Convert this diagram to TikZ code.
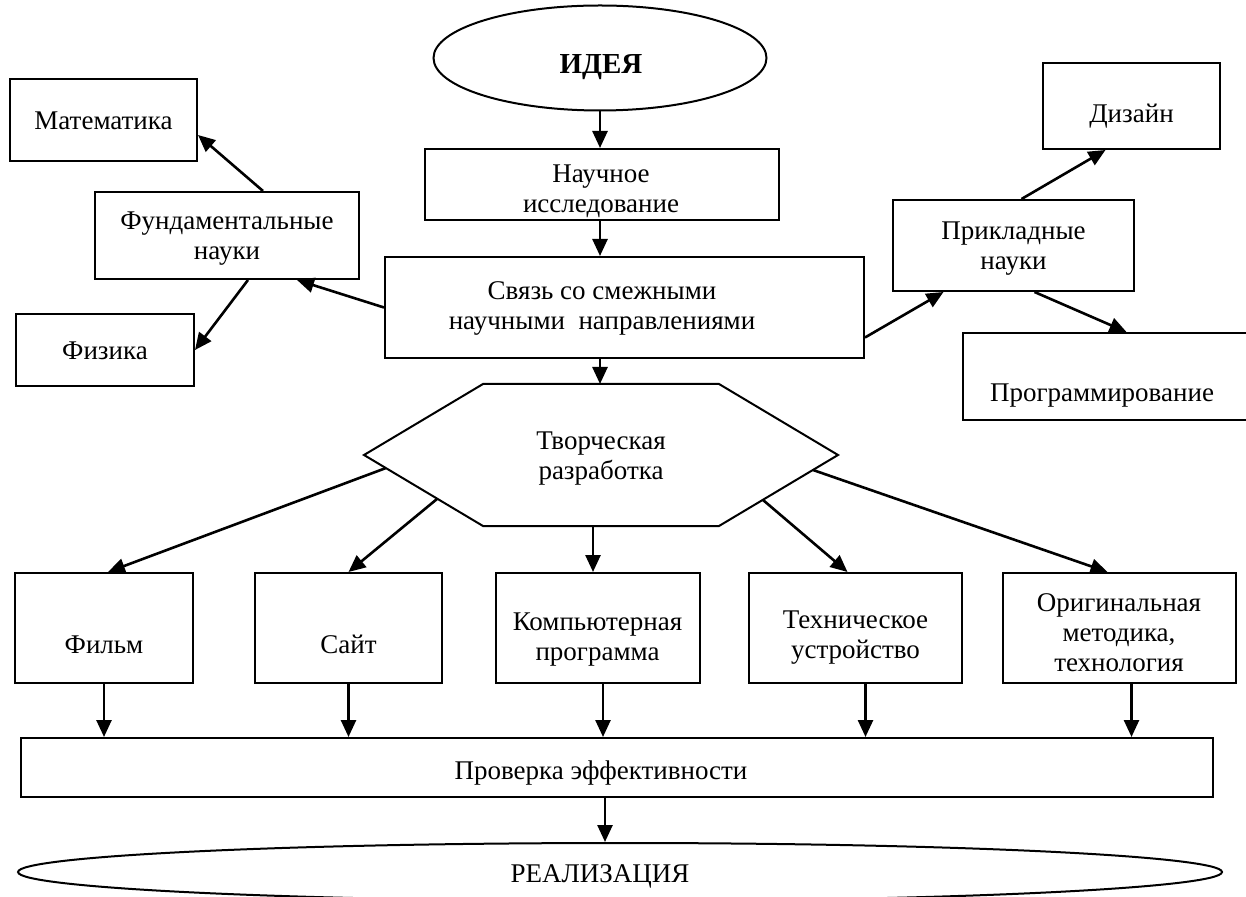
\documentclass[tikz,border=0pt]{standalone}
\usepackage{fontspec}
\setmainfont{Liberation Serif}
\usetikzlibrary{arrows.meta,shapes.geometric}
\tikzset{
  box/.style={draw, line width=1pt, inner sep=0pt, align=center},
  oval/.style={draw, ellipse, line width=1pt, inner sep=0pt},
  lbl/.style={inner sep=0pt, align=center},
  line/.style={inner sep=0pt, text height=9pt, text depth=3pt},
  arr/.style={line width=1.3pt, -{Triangle[length=8.5pt, width=7.5pt]}},
}
\begin{document}
\begin{tikzpicture}[x=0.5pt, y=-0.5pt, font=\fontsize{13.5}{15}\selectfont]
  \useasboundingbox (0,0) rectangle (1246,897);
  \node[oval, minimum width=166.5pt, minimum height=52.5pt] (idea) at (600,58) {};
  \node[line, font=\fontsize{14.5}{15}\selectfont\bfseries] (ideatxt) at (601,68) {ИДЕЯ};
  \node[box, minimum width=177pt, minimum height=35.5pt] (nauch) at (602,184.5) {};
  \node[lbl] (nauchtxt) at (601,191) {Научное\\исследование};
  \node[box, minimum width=239.5pt, minimum height=50.5pt] (svyaz) at (624.5,307.5) {};
  \node[lbl] (svyaztxt) at (602,308) {Связь со смежными\\научными\ \ направлениями};
  \node[box, minimum width=132pt, minimum height=43.5pt] (fund) at (227,235.5) {};
  \node[lbl] (fundtxt) at (227,239) {Фундаментальные\\науки};
  \node[box, minimum width=93.5pt, minimum height=41pt] (mat) at (103.5,120) {};
  \node[line] (mattxt) at (103.5,124) {Математика};
  \node[box, minimum width=89pt, minimum height=36pt] (fiz) at (105,350) {};
  \node[line] (fiztxt) at (105,354) {Физика};
  \node[box, minimum width=120.5pt, minimum height=45.5pt] (prikl) at (1013.5,245.5) {};
  \node[lbl] (prikltxt) at (1013.5,249) {Прикладные\\науки};
  \node[box, minimum width=88.5pt, minimum height=43pt] (diz) at (1131.5,106) {};
  \node[line] (diztxt) at (1131.5,117) {Дизайн};
  \node[box, minimum width=143.5pt, minimum height=43.5pt] (prog) at (1106.5,376.5) {};
  \node[line] (progtxt) at (1102,396) {Программирование};

  \draw[line width=1pt] (364,455) -- (483,384) -- (719,384) -- (838,455) -- (719,526) -- (483,526) -- cycle;
  \node[lbl] (tvor) at (601,459) {Творческая\\разработка};
  \coordinate (htop) at (600,384);
  \coordinate (hbot) at (593,526);
  \coordinate (h1) at (386,468);
  \coordinate (h2) at (437,499);
  \coordinate (h4) at (763,500);
  \coordinate (h5) at (813,470);

  \node[box, minimum width=89pt, minimum height=55pt] (film) at (104,628) {};
  \node[line] (filmtxt) at (104,647) {Фильм};
  \node[box, minimum width=93.5pt, minimum height=55pt] (sayt) at (348.5,628) {};
  \node[line] (sayttxt) at (348.5,647) {Сайт};
  \node[box, minimum width=102pt, minimum height=55pt] (komp) at (598,628) {};
  \node[lbl] (komptxt) at (597.5,640) {Компьютерная\\программа};
  \node[box, minimum width=106.5pt, minimum height=55pt] (tekh) at (855.5,628) {};
  \node[lbl] (tekhtxt) at (855.5,638) {Техническое\\устройство};
  \node[box, minimum width=116.5pt, minimum height=55pt] (orig) at (1119.5,628) {};
  \node[lbl] (origtxt) at (1119,633) {Оригинальная\\методика,\\технология};

  \node[box, minimum width=596pt, minimum height=29.5pt] (prov) at (617,767.5) {};
  \node[line] (provtxt) at (601,773) {Проверка эффективности};
  \node[oval, minimum width=602pt, minimum height=29pt] (real) at (620,872) {};
  \node[line] (realtxt) at (600,876) {РЕАЛИЗАЦИЯ};

  \draw[arr] (idea.south) -- (idea.south |- nauch.north);
  \draw[arr] (idea.south |- nauch.south) -- (idea.south |- svyaz.north);
  \draw[arr] (htop |- svyaz.south) -- (htop);
  \draw[arr] (svyaz.west) -- ([xshift=35pt]fund.south);
  \draw[arr] ([xshift=18pt]fund.north) -- ([yshift=-7.5pt]mat.east);
  \draw[arr] ([xshift=10.5pt]fund.south) -- (fiz.east);
  \draw[arr] ([yshift=-15pt]svyaz.east) -- ([xshift=-35pt]prikl.south);
  \draw[arr] ([xshift=4pt]prikl.north) -- ([xshift=-13pt]diz.south);
  \draw[arr] ([xshift=10.5pt]prikl.south) -- ([xshift=10pt]prog.north);
  \draw[arr] (h1) -- ([xshift=2pt]film.north);
  \draw[arr] (h2) -- (sayt.north);
  \draw[arr] (hbot) -- (hbot |- komp.north);
  \draw[arr] (h4) -- ([xshift=-4pt]tekh.north);
  \draw[arr] (h5) -- ([xshift=-6pt]orig.north);
  \foreach \b/\s in {film/0pt, sayt/0pt, komp/2.5pt, tekh/5pt, orig/6pt}
    \draw[arr] ([xshift=\s]\b.south) -- ([xshift=\s]\b.south |- prov.north);
  \draw[arr] ([xshift=-6pt]prov.south) -- ([xshift=-6pt]prov.south |- real.north);
\end{tikzpicture}
\end{document}
